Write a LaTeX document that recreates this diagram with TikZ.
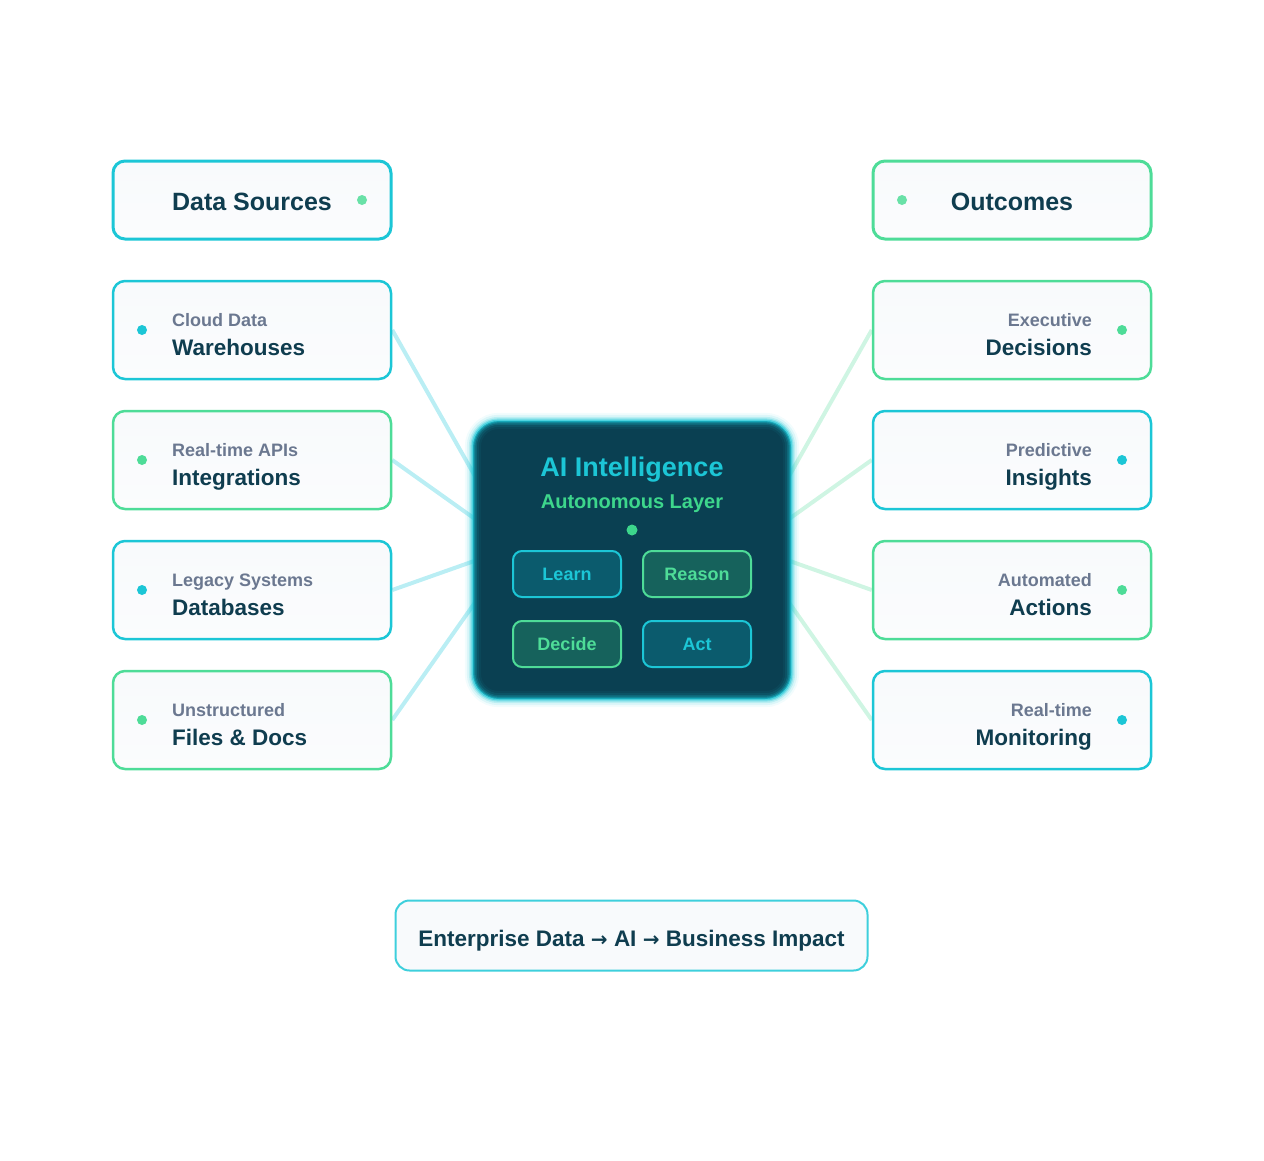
\documentclass[tikz,border=0pt]{standalone}
\usepackage{fontspec}
\setmainfont{Liberation Sans}
\newfontfamily\symfont{DejaVu Sans}
\usetikzlibrary{calc}

\definecolor{teal}{HTML}{1CC6D6}
\definecolor{mint}{HTML}{4EDC98}
\definecolor{dotmint}{HTML}{3DD68C}
\definecolor{inkdark}{HTML}{0F3D4F}
\definecolor{inkgray}{HTML}{6B7890}
\definecolor{boxfill}{HTML}{F8FAFC}
\definecolor{corefill}{HTML}{0A4052}
\definecolor{linecyan}{HTML}{BAEEF4}
\definecolor{linemint}{HTML}{CFF5E3}
\definecolor{skilltealfill}{HTML}{0B5B6D}
\definecolor{skillmintfill}{HTML}{16625C}

\pgfdeclarelayer{back}
\pgfsetlayers{back,main}

\tikzset{
  card/.style={draw=#1, line width=2.5pt, rounded corners=12pt, top color=boxfill, bottom color=boxfill!60!white,
    minimum width=278pt, minimum height=98pt, inner sep=0pt},
  headcard/.style={card=#1, line width=3pt, minimum height=78pt},
  dot/.style={circle, fill=#1, minimum size=10pt, inner sep=0pt},
  small/.style={font=\fontsize{18}{21}\selectfont\bfseries, text=inkgray, inner sep=0pt},
  big/.style={font=\fontsize{22.5}{26}\selectfont\bfseries, text=inkdark, inner sep=0pt},
  skill/.style={draw=#1, fill=skill#1fill, text=#1, line width=2pt, rounded corners=9pt,
    minimum width=108pt, minimum height=46pt, inner sep=0pt, text height=12.8pt, text depth=0pt,
    font=\fontsize{18}{21}\selectfont\bfseries},
  feed/.style={draw=#1, line width=4pt},
}

\begin{document}
\begin{tikzpicture}[x=1pt,y=-1pt]
\useasboundingbox (0,0) rectangle (1264,1160);

% column headers
\node[headcard=teal] (srchead) at (252,200) {};
\node[font=\fontsize{25}{29}\selectfont\bfseries, text=inkdark] (srctitle) at (252,202) {Data Sources};
\node[dot=mint!85!white] (srcdot) at (362,200) {};

\node[headcard=mint] (outhead) at (1012,200) {};
\node[font=\fontsize{25}{29}\selectfont\bfseries, text=inkdark] (outtitle) at (1012,202) {Outcomes};
\node[dot=mint!85!white] (outdot) at (902,200) {};

% data sources
\foreach \y/\sm/\bg/\c [count=\i] in {330/Cloud Data/Warehouses/teal,
    460/Real-time APIs/Integrations/mint,
    590/Legacy Systems/Databases/teal,
    720/Unstructured/Files \& Docs/mint} {
  \node[card=\c] (src\i) at (252,\y) {};
  \node[dot=\c] (srcdot\i) at (142,\y) {};
  \node[small, anchor=base west] (srcsm\i) at (172,\y-3.5) {\sm};
  \node[big, anchor=base west] (srcbg\i) at (172,\y+25) {\bg};
}

% outcomes
\foreach \y/\sm/\bg/\c [count=\i] in {330/Executive/Decisions/mint,
    460/Predictive/Insights/teal,
    590/Automated/Actions/mint,
    720/Real-time/Monitoring/teal} {
  \node[card=\c] (out\i) at (1012,\y) {};
  \node[dot=\c] (outdot\i) at (1122,\y) {};
  \node[small, anchor=base east] (outsm\i) at (1092,\y-3.5) {\sm};
  \node[big, anchor=base east] (outbg\i) at (1092,\y+25) {\bg};
}

% core
\node[fill=corefill, rounded corners=26pt, minimum width=318pt, minimum height=278pt] (core) at (632,560) {};
\foreach \w/\o in {16/0.06,12/0.10,8/0.18,5/0.30,2.5/0.55}
  \draw[teal, line width=\w pt, opacity=\o, rounded corners=26pt] (core.north west) rectangle (core.south east);
\node[font=\fontsize{27}{31}\selectfont\bfseries, text=teal] (coretitle) at (632,470) {AI Intelligence};
\node[font=\fontsize{20}{23}\selectfont\bfseries, text=dotmint] (coresub) at (632,504) {Autonomous Layer};
\node[dot=dotmint, minimum size=11pt] (coredot) at (632,530) {};

\node[skill=teal] (learn) at (567,574) {Learn};
\node[skill=mint] (reason) at (697,574) {Reason};
\node[skill=mint] (decide) at (567,644) {Decide};
\node[skill=teal] (act) at (697,644) {Act};

% connectors
\begin{pgfonlayer}{back}
\foreach \i/\d in {1/55,2/98,3/140,4/182} {
  \coordinate (inL\i) at ($(core.north west)+(2,\d)$);
  \coordinate (inR\i) at ($(core.north east)+(-2,\d)$);
  \draw[feed=linecyan] (src\i.east) -- (inL\i);
  \draw[feed=linemint] (out\i.west) -- (inR\i);
}
\end{pgfonlayer}

% footer
\node[draw=teal!85!white, line width=2pt, rounded corners=14pt, fill=boxfill, minimum width=472pt, minimum height=70pt]
  (footer) at (631.5,935.5) {};
\node[font=\fontsize{22.5}{26}\selectfont\bfseries, text=inkdark, text height=16pt, text depth=0pt, inner sep=0pt]
  (footertext) at ($(footer.center)+(0,2.5)$)
  {Enterprise Data {\symfont\fontsize{20}{23}\selectfont →} AI {\symfont\fontsize{20}{23}\selectfont →} Business Impact};
\end{tikzpicture}
\end{document}
